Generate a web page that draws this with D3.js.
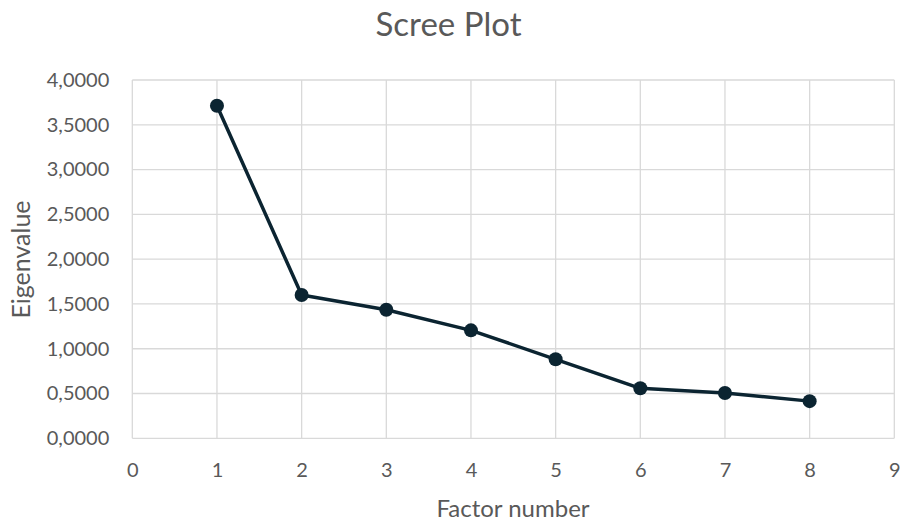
<!DOCTYPE html>
<html><head><meta charset="utf-8">
<script src="https://cdn.jsdelivr.net/npm/d3@7"></script>
<style>body{margin:0;background:#fff}svg{display:block}</style>
</head><body>
<script>
const factors = [1,2,3,4,5,6,7,8];
const eigenvalues = [3.712, 1.600, 1.435, 1.205, 0.882, 0.558, 0.505, 0.415];
const xTicks = [0,1,2,3,4,5,6,7,8,9];
const yTicks = [0,0.5,1,1.5,2,2.5,3,3.5,4];
const title = "Scree Plot", xTitle = "Factor number", yTitle = "Eigenvalue";

const W=902,H=523;
const L=132.3,R=894.3,T=80,B=438.3;
const font = "Lato, 'Open Sans', sans-serif";
const svg=d3.select("body").append("svg").attr("width",W).attr("height",H);
const x=d3.scaleLinear().domain([0,9]).range([L,R]);
const y=d3.scaleLinear().domain([0,4]).range([B,T]);
const fmt=v=>v.toFixed(4).replace(".",",");

// grid
svg.append("g").selectAll("line").data(yTicks).join("line")
 .attr("x1",L).attr("x2",R).attr("y1",d=>y(d)).attr("y2",d=>y(d))
 .attr("stroke","#d9d9d9").attr("stroke-width",1.3);
svg.append("g").selectAll("line").data(xTicks).join("line")
 .attr("y1",T).attr("y2",B).attr("x1",d=>x(d)).attr("x2",d=>x(d))
 .attr("stroke","#d9d9d9").attr("stroke-width",1.3);

// axes
const yAxis=d3.axisLeft(y).tickValues(yTicks).tickFormat(fmt).tickSize(0).tickPadding(23);
const gy=svg.append("g").attr("transform",`translate(${L},0)`).call(yAxis);
const xAxis=d3.axisBottom(x).tickValues(xTicks).tickFormat(d3.format("d")).tickSize(0);
const gx=svg.append("g").attr("transform",`translate(0,${B})`).call(xAxis);
gx.selectAll("text").attr("y",477-B).attr("dy",0);
[gy,gx].forEach(g=>{g.select(".domain").remove();
 g.selectAll("text").attr("fill","#595959").style("font-family",font).style("font-size","20px");});

// line
svg.append("path").datum(factors.map((f,i)=>[f,eigenvalues[i]]))
 .attr("d",d3.line().x(d=>x(d[0])).y(d=>y(d[1])))
 .attr("fill","none").attr("stroke","#0b2431").attr("stroke-width",3.5).attr("stroke-linejoin","round");
svg.append("g").selectAll("circle").data(factors).join("circle")
 .attr("cx",d=>x(d)).attr("cy",(d,i)=>y(eigenvalues[i])).attr("r",7).attr("fill","#0b2431");

// titles
svg.append("text").attr("x",448.5).attr("y",36).attr("text-anchor","middle")
 .attr("fill","#595959").style("font-family",font).style("font-size","33px").text(title);
svg.append("text").attr("x",513).attr("y",517).attr("text-anchor","middle")
 .attr("fill","#595959").style("font-family",font).style("font-size","24px").text(xTitle);
svg.append("text").attr("transform","translate(30,259.5) rotate(-90)").attr("text-anchor","middle")
 .attr("fill","#595959").style("font-family",font).style("font-size","25px").text(yTitle);
</script>
</body></html>
